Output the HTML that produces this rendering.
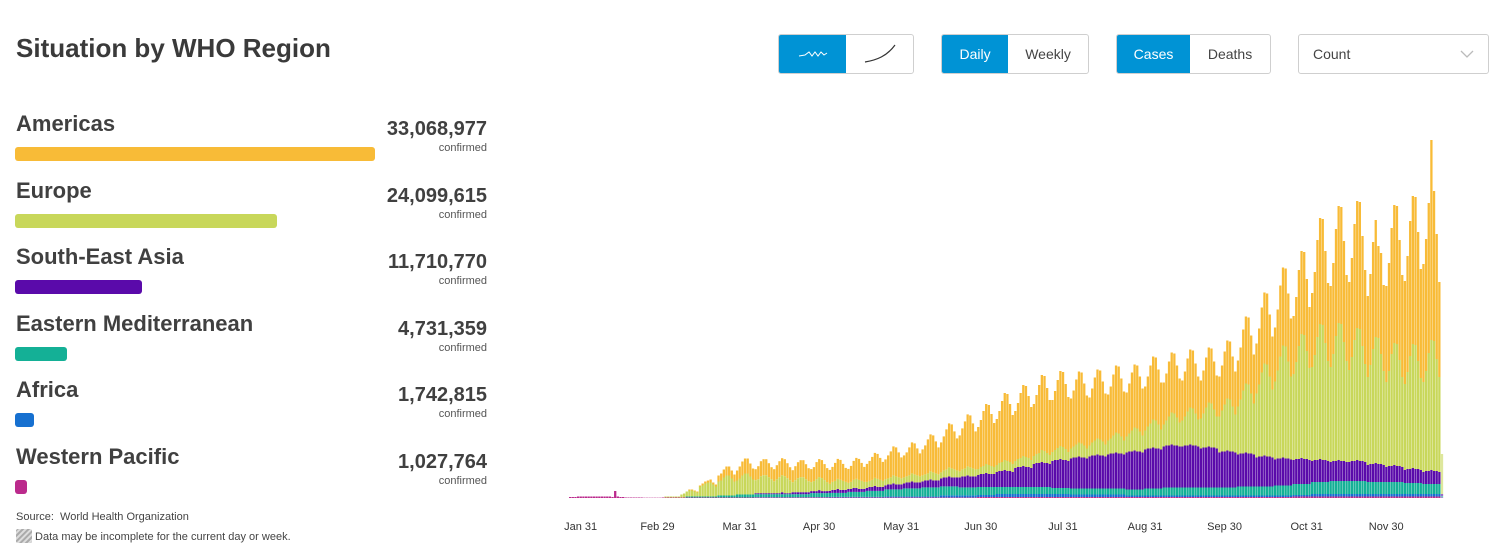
<!DOCTYPE html>
<html><head><meta charset="utf-8">
<style>
body{margin:0;width:1497px;height:555px;background:#fff;font-family:"Liberation Sans",Arial,sans-serif;color:#404040;position:relative;overflow:hidden}
.abs{position:absolute}
h1{position:absolute;left:16px;top:33px;margin:0;font-size:26px;font-weight:bold;color:#3a3a3a}
.rname{position:absolute;left:16px;font-size:22px;font-weight:bold;color:#404040}
.rbar{position:absolute;left:15px;height:14px;border-radius:3px}
.rnum{position:absolute;right:1010px;font-size:20px;font-weight:bold;color:#404040;text-align:right}
.rconf{position:absolute;right:1010px;font-size:11px;color:#555;text-align:right}
.grp{position:absolute;top:34px;height:40px;border:1px solid #cfcfcf;border-radius:3px;display:flex;overflow:hidden;box-sizing:border-box}
.grp div{display:flex;align-items:center;justify-content:center;font-size:14px;color:#444}
.grp .on{background:#0093d5;color:#fff}
.src{position:absolute;left:16px;font-size:11px;color:#444}
.xl{font-size:11px;fill:#333;text-anchor:middle}
</style></head><body>
<h1>Situation by WHO Region</h1>
<div id="left"></div>
<div class="src" style="top:511px">Source:&nbsp; World Health Organization</div>
<div class="src" style="top:529px;left:16px"><svg width="16" height="14" style="vertical-align:-3px"><defs><pattern id="hp" width="4" height="4" patternUnits="userSpaceOnUse" patternTransform="rotate(45)"><rect width="4" height="4" fill="#ddd"/><rect width="2" height="4" fill="#aaa"/></pattern></defs><rect width="16" height="14" rx="2" fill="url(#hp)"/></svg> Data may be incomplete for the current day or week.</div>

<div class="grp" style="left:778px;width:136px">
 <div class="on" style="width:68px"><svg width="32" height="12"><polyline points="2,8 8,7 12,4 15,8 18,4 21,8 24,4 27,7 30,5" fill="none" stroke="#fff" stroke-width="1"/></svg></div>
 <div style="width:68px"><svg width="34" height="24"><path d="M2,20 C14,18 24,14 32,3" fill="none" stroke="#333" stroke-width="1.2"/></svg></div>
</div>
<div class="grp" style="left:941px;width:148px">
 <div class="on" style="width:67px">Daily</div>
 <div style="width:81px">Weekly</div>
</div>
<div class="grp" style="left:1116px;width:155px">
 <div class="on" style="width:74px">Cases</div>
 <div style="width:81px">Deaths</div>
</div>
<div class="grp" style="left:1298px;width:191px;justify-content:space-between">
 <div style="padding-left:14px">Count</div>
 <div style="padding-right:14px"><svg width="14" height="10"><polyline points="1,2 7,8 13,2" fill="none" stroke="#bbb" stroke-width="1.3"/></svg></div>
</div>

<svg id="chart" class="abs" style="left:0;top:0" width="1497" height="555"></svg>

<script>
const regionNames=["Americas","Europe","South-East Asia","Eastern Mediterranean","Africa","Western Pacific"];
const regionTotals=[33068977,24099615,11710770,4731359,1742815,1027764];
const regionColors=["#f8bb37","#c8d75a","#5a0aaa","#14b096","#1670d0","#bb2a8c"];
const xTickLabels=["Jan 31","Feb 29","Mar 31","Apr 30","May 31","Jun 30","Jul 31","Aug 31","Sep 30","Oct 31","Nov 30"];
const xTickDays=[4,33,64,94,125,155,186,217,247,278,308];
// daily new cases (thousands/2), from Jan 27
const americas=[
0,0,0,0,0,0,0, 0,0,0,0,0,0,0, 0,0,0,0,0,0,0, 0,0,0,0,0,0,0, 0,0,0,0,0,0,0, 0,0,0,0,0,0,0,
0,0,0,1,1,1,1, 1,2,2,2,3,2,2, 6,7,8,9,9,8,7, 10,12,14,15,15,13,11, 11,13,15,16,16,14,12,
12,14,16,17,17,15,13, 12,14,16,17,17,15,13, 13,14,17,18,18,16,14, 14,15,18,20,20,17,14,
14,16,19,21,21,18,15, 18,20,23,25,25,22,19, 20,23,26,29,29,25,21, 22,24,28,31,31,27,23,
26,29,34,37,37,32,27, 30,34,40,44,44,38,32, 36,41,47,52,52,45,38, 42,47,55,60,60,52,44,
46,52,61,67,67,58,49, 50,56,65,71,71,62,53, 52,59,68,75,75,65,55, 52,59,68,75,75,65,55,
50,56,65,71,71,62,53, 48,54,63,69,69,60,51, 46,52,61,67,67,58,49, 44,50,58,63,63,55,47,
44,50,58,63,63,55,47, 42,47,55,60,60,52,44, 40,45,53,58,58,50,43, 38,43,50,55,55,48,41,
40,45,53,58,58,50,43, 46,52,61,67,67,58,49, 50,56,65,71,71,62,53, 54,61,71,78,78,68,58,
58,65,76,83,83,72,61, 74,83,97,106,106,92,78, 81,91,107,117,117,101,86, 88,99,116,127,127,110,94,
81,91,107,117,92,101,86, 96,108,126,138,138,120,102, 103,116,135,148,148,129,109, 118,132,150,200,150,125,95,
0];
const europe=[
0,0,0,0,0,0,0, 0,0,0,0,0,0,0, 0,0,0,0,0,0,0, 0,0,0,0,0,0,0, 0,0,0,0,0,0,0,
0,1,1,1,1,1,1, 3,4,5,6,6,5,4, 10,11,13,14,14,12,10, 14,15,18,20,20,17,14, 14,16,19,21,21,18,15,
13,14,17,18,18,16,14, 12,14,16,17,17,15,13, 10,12,14,15,15,13,11, 9,10,12,13,13,11,9,
7,8,9,10,10,9,8, 6,7,8,9,9,8,7, 6,6,7,8,8,7,6, 6,6,7,8,8,7,6, 6,6,7,8,8,7,6, 6,6,7,8,8,7,6,
6,7,8,9,9,8,7, 6,7,8,9,9,8,7, 6,7,8,9,9,8,7, 7,8,9,10,10,9,8, 7,8,9,10,10,9,8,
8,9,10,12,12,10,9, 9,10,12,13,13,11,9, 10,11,13,14,14,12,10, 11,13,15,16,16,14,12,
14,15,18,20,20,17,14, 16,18,21,23,23,20,17, 19,22,25,28,28,24,20, 22,25,29,32,32,28,24,
26,29,34,37,37,32,27, 30,34,40,44,44,38,32, 36,41,47,52,52,45,38, 48,54,63,69,69,60,51,
64,72,84,92,92,80,68, 78,88,102,112,112,97,83, 86,97,113,124,124,108,92, 94,105,123,135,135,117,100,
95,107,125,137,137,119,101, 92,104,121,132,132,115,98, 88,99,115,126,126,110,94, 85,95,112,122,122,106,90,
86,97,113,124,124,108,92, 90,100,118,130,130,112,95,
40];
const seAsia=[
0,0,0,0,0,0,0, 0,0,0,0,0,0,0, 0,0,0,0,0,0,0, 0,0,0,0,0,0,0, 0,0,0,0,0,0,0,
0,0,0,0,0,0,0, 0,0,0,0,0,0,0, 0,0,0,0,0,0,0, 0,0,0,0,0,0,0, 0,0,0,0,0,0,0,
1,1,1,1,1,1,1, 1,1,1,2,1,1,1, 2,2,2,2,2,2,2, 2,2,2,3,2,2,2, 2,3,3,4,3,3,3, 3,3,4,4,3,3,3,
3,4,4,5,4,4,4, 4,5,5,6,5,5,5, 5,6,6,7,6,6,6, 6,7,7,8,7,7,7, 8,9,9,10,9,9,9, 10,11,11,12,11,11,11,
12,13,13,14,13,13,13, 15,16,16,17,16,16,15, 19,20,20,21,20,20,19, 23,24,24,25,24,24,23,
27,28,28,29,28,28,27, 30,31,31,32,31,31,30, 32,33,33,34,33,33,32, 34,35,35,36,35,35,34,
37,38,38,39,38,38,37, 39,40,40,41,40,40,39, 41,42,42,43,42,42,41, 41,42,42,43,42,42,41,
39,40,40,41,40,40,39, 35,36,36,37,36,36,35, 32,33,33,34,33,33,32, 29,30,30,31,30,30,29,
26,27,27,28,27,27,26, 24,25,25,26,25,25,24, 21,22,22,23,22,22,21, 19,20,20,21,20,20,19,
19,20,20,21,20,20,19, 17,18,18,19,18,18,17, 15,16,16,17,16,16,15, 13,14,14,15,14,14,13,
12,13,13,14,13,13,12,
2];
const eastMed=[
0,0,0,0,0,0,0, 0,0,0,0,0,0,0, 0,0,0,0,0,0,0, 0,0,0,0,0,0,0, 0,0,0,0,0,0,0, 0,0,0,0,0,0,0,
0,0,1,1,1,1,1, 1,1,1,1,1,1,1, 2,2,2,2,2,2,2, 3,3,3,3,3,3,3, 3,3,3,3,3,3,3, 3,3,3,3,3,3,3, 3,3,3,3,3,3,3,
4,4,4,4,4,4,4, 4,4,4,4,4,4,4, 5,5,5,5,5,5,5, 6,6,6,6,6,6,6, 7,7,7,7,7,7,7, 8,8,8,8,8,8,8,
9,9,9,9,9,9,9, 9,9,9,9,9,9,9, 8,8,8,8,8,8,8, 8,8,8,8,8,8,8, 7,7,7,7,7,7,7, 7,7,7,7,7,7,7, 7,7,7,7,7,7,7,
6,6,6,6,6,6,6, 6,6,6,6,6,6,6, 6,6,6,6,6,6,6, 6,6,6,6,6,6,6, 6,6,6,6,6,6,6, 7,7,7,7,7,7,7,
8,8,8,8,8,8,8, 8,8,8,8,8,8,8, 8,8,8,8,8,8,8, 8,8,8,8,8,8,8, 9,9,9,9,9,9,9, 9,9,9,9,9,9,9,
10,10,10,10,10,10,10, 11,11,11,11,11,11,11, 12,12,12,12,12,12,12, 13,13,13,13,13,13,13, 13,13,13,13,13,13,13,
12,12,12,12,12,12,12, 12,12,12,12,12,12,12, 11,11,11,11,11,11,11, 10,10,10,10,10,10,10,
1];
const africa=[
0,0,0,0,0,0,0, 0,0,0,0,0,0,0, 0,0,0,0,0,0,0, 0,0,0,0,0,0,0, 0,0,0,0,0,0,0, 0,0,0,0,0,0,0, 0,0,0,0,0,0,0, 0,0,0,0,0,0,0, 0,0,0,0,0,0,0, 0,0,0,0,0,0,0,
.3,.3,.3,.3,.3,.3,.3, .3,.3,.3,.3,.3,.3,.3, .3,.3,.3,.3,.3,.3,.3, .3,.3,.3,.3,.3,.3,.3,
.5,.5,.5,.5,.5,.5,.5, .5,.5,.5,.5,.5,.5,.5, .5,.5,.5,.5,.5,.5,.5,
1,1,1,1,1,1,1, 1,1,1,1,1,1,1, 1,1,1,1,1,1,1, 2,2,2,2,2,2,2, 2,2,2,2,2,2,2, 2,2,2,2,2,2,2,
3,3,3,3,3,3,3, 3,3,3,3,3,3,3, 3,3,3,3,3,3,3, 3,3,3,3,3,3,3,
2.5,2.5,2.5,2.5,2.5,2.5,2.5, 2.5,2.5,2.5,2.5,2.5,2.5,2.5, 2.5,2.5,2.5,2.5,2.5,2.5,2.5,
1.5,1.5,1.5,1.5,1.5,1.5,1.5, 1.5,1.5,1.5,1.5,1.5,1.5,1.5, 1.5,1.5,1.5,1.5,1.5,1.5,1.5, 1.5,1.5,1.5,1.5,1.5,1.5,1.5, 1.5,1.5,1.5,1.5,1.5,1.5,1.5,
1.5,1.5,1.5,1.5,1.5,1.5,1.5, 1.5,1.5,1.5,1.5,1.5,1.5,1.5, 1.5,1.5,1.5,1.5,1.5,1.5,1.5, 1.5,1.5,1.5,1.5,1.5,1.5,1.5, 1.5,1.5,1.5,1.5,1.5,1.5,1.5,
2.5,2.5,2.5,2.5,2.5,2.5,2.5, 2.5,2.5,2.5,2.5,2.5,2.5,2.5, 2.5,2.5,2.5,2.5,2.5,2.5,2.5, 2.5,2.5,2.5,2.5,2.5,2.5,2.5,
2.5,2.5,2.5,2.5,2.5,2.5,2.5, 2.5,2.5,2.5,2.5,2.5,2.5,2.5, 2.5,2.5,2.5,2.5,2.5,2.5,2.5,
.5];
const westPac=[
1,1,1,1.5,1.5,1.5,1.5, 1.5,1.5,1.5,1.5,1.5,1.5,1.5, 1.5,1.5,1,7,1.5,1,1, .5,.5,.5,.5,.5,.5,.5, .3,.3,.3,.3,.3,.3,.3,
.5,.5,.5,.5,.5,.5,.5, .5,.5,.5,.5,.5,.5,.5, .5,.5,.5,.5,.5,.5,.5, .5,.5,.5,.5,.5,.5,.5,
.5,.5,.5,.5,.5,.5,.5, .5,.5,.5,.5,.5,.5,.5, .5,.5,.5,.5,.5,.5,.5, .5,.5,.5,.5,.5,.5,.5,
.6,.6,.6,.6,.6,.6,.6, .6,.6,.6,.6,.6,.6,.6, .6,.6,.6,.6,.6,.6,.6, .6,.6,.6,.6,.6,.6,.6, .6,.6,.6,.6,.6,.6,.6,
.6,.6,.6,.6,.6,.6,.6, .6,.6,.6,.6,.6,.6,.6, .6,.6,.6,.6,.6,.6,.6, .6,.6,.6,.6,.6,.6,.6,
1,1,1,1,1,1,1, 1,1,1,1,1,1,1, 1,1,1,1,1,1,1, 1,1,1,1,1,1,1, 1,1,1,1,1,1,1, 1,1,1,1,1,1,1,
1,1,1,1,1,1,1, 1,1,1,1,1,1,1, 1,1,1,1,1,1,1, 1,1,1,1,1,1,1, 1,1,1,1,1,1,1, 1,1,1,1,1,1,1,
1,1,1,1,1,1,1, 1,1,1,1,1,1,1, 1,1,1,1,1,1,1, 1,1,1,1,1,1,1, 1,1,1,1,1,1,1,
1.5,1.5,1.5,1.5,1.5,1.5,1.5, 1.5,1.5,1.5,1.5,1.5,1.5,1.5, 1.5,1.5,1.5,1.5,1.5,1.5,1.5, 1.5,1.5,1.5,1.5,1.5,1.5,1.5,
1.5,1.5,1.5,1.5,1.5,1.5,1.5, 1.5,1.5,1.5,1.5,1.5,1.5,1.5, 1.5,1.5,1.5,1.5,1.5,1.5,1.5, 1.5,1.5,1.5,1.5,1.5,1.5,1.5,
.5];

// left panel
const left=document.getElementById('left');
const maxTot=Math.max(...regionTotals);
regionNames.forEach((n,i)=>{
  const top=111+i*66.6;
  const nm=document.createElement('div');
  nm.className='rname';nm.style.top=top+'px';nm.textContent=n;
  
  
  left.appendChild(nm);
  const b=document.createElement('div');
  b.className='rbar';b.style.top=(top+36)+'px';b.style.background=regionColors[i];
  b.style.width=Math.max(12,regionTotals[i]/maxTot*360)+'px';
  
  
  left.appendChild(b);
  const v=document.createElement('div');
  v.className='rnum';v.style.top=(top+7)+'px';v.textContent=regionTotals[i].toLocaleString('en-US');
  
  
  left.appendChild(v);
  const c=document.createElement('div');
  c.className='rconf';c.style.top=(top+31)+'px';c.textContent='confirmed';
  
  
  left.appendChild(c);
});

// chart
const NS='http://www.w3.org/2000/svg';
const svg=document.getElementById('chart');
const x0=569, dayW=2.65, base=498, yMax=360, plotH=360;
const xs=d=>x0+d*dayW;
const ys=v=>v/yMax*plotH;
const stackOrder=[westPac,africa,eastMed,seAsia,europe,americas];
const stackColors=["#bb2a8c","#1670d0","#14b096","#5a0aaa","#c8d75a","#f8bb37"];
const nDays=americas.length;
for(let d=0;d<nDays;d++){
  let acc=0;
  const last=d===nDays-1;
  stackOrder.forEach((s,k)=>{
    const v=s[d]||0; if(v<=0) return;
    const h=ys(v);
    const r=document.createElementNS(NS,'rect');
    r.setAttribute('x',xs(d));r.setAttribute('width',2.3);
    r.setAttribute('y',base-ys(acc)-h);r.setAttribute('height',h);
    r.setAttribute('fill',stackColors[k]);
    if(last) r.setAttribute('opacity','0.6');
    
    
    svg.appendChild(r);
    acc+=v;
  });
}
xTickLabels.forEach((t,i)=>{
  const tx=document.createElementNS(NS,'text');
  tx.setAttribute('x',xs(xTickDays[i])+1);tx.setAttribute('y',530);
  tx.setAttribute('class','xl');tx.textContent=t;
  
  
  svg.appendChild(tx);
});
</script>
</body></html>
